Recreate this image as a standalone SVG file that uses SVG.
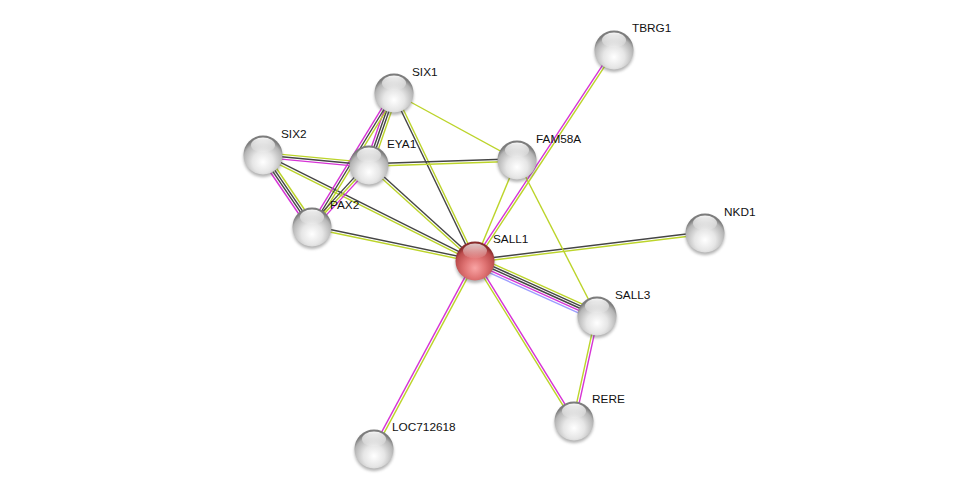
<svg xmlns="http://www.w3.org/2000/svg" width="976" height="494" viewBox="0 0 976 494">
<style>
.e{stroke-width:1.4;fill:none;stroke-linecap:butt}
.y{stroke:#bcd42a}
.k{stroke:#454545}
.m{stroke:#d633d6}
.b{stroke:#9c9cff}
.lbl{font-family:"Liberation Sans",Arial,sans-serif;font-size:11.8px;fill:#111}
</style>
<defs>
<radialGradient id="gg" cx="50%" cy="68%" r="60%">
<stop offset="0%" stop-color="#ffffff"/>
<stop offset="45%" stop-color="#e6e6e6"/>
<stop offset="85%" stop-color="#b4b4b4"/>
<stop offset="100%" stop-color="#7c7c7c"/>
</radialGradient>
<radialGradient id="rg" cx="50%" cy="68%" r="60%">
<stop offset="0%" stop-color="#f9a4a4"/>
<stop offset="45%" stop-color="#e07474"/>
<stop offset="85%" stop-color="#bc4c4c"/>
<stop offset="100%" stop-color="#8a2c2c"/>
</radialGradient>
<linearGradient id="hl" x1="0" y1="0" x2="0" y2="1">
<stop offset="0%" stop-color="#ffffff" stop-opacity="0.95"/>
<stop offset="100%" stop-color="#ffffff" stop-opacity="0.05"/>
</linearGradient>
<filter id="sh" x="-50%" y="-50%" width="200%" height="200%">
<feGaussianBlur stdDeviation="1.6"/>
</filter>
<g id="nodeG">
<circle cx="0" cy="2.5" r="19.5" fill="#555" opacity="0.45" filter="url(#sh)"/>
<circle cx="0" cy="0" r="19.5" fill="url(#gg)"/>
<ellipse cx="0" cy="-10" rx="12" ry="7.5" fill="url(#hl)"/>
</g>
<g id="nodeR">
<circle cx="0" cy="2.5" r="19.5" fill="#555" opacity="0.45" filter="url(#sh)"/>
<circle cx="0" cy="0" r="19.5" fill="url(#rg)"/>
<ellipse cx="0" cy="-10" rx="12" ry="7.5" fill="url(#hl)" opacity="0.8"/>
</g>
</defs>
<rect width="976" height="494" fill="#ffffff"/>
<g id="connectors">
<!-- SALL1-SIX1 -->
<line class="e k" x1="473.9" y1="261.5" x2="392.9" y2="93.5"/>
<line class="e y" x1="476.1" y1="260.5" x2="395.1" y2="92.5"/>
<!-- SALL1-EYA1 -->
<line class="e k" x1="475.8" y1="260.1" x2="369.8" y2="164.1"/>
<line class="e y" x1="474.2" y1="261.9" x2="368.2" y2="165.9"/>
<!-- SALL1-SIX2 -->
<line class="e k" x1="475.5" y1="259.9" x2="263.5" y2="153.9"/>
<line class="e y" x1="474.5" y1="262.1" x2="262.5" y2="156.1"/>
<!-- SALL1-PAX2 -->
<line class="e k" x1="475.2" y1="259.8" x2="312.2" y2="225.8"/>
<line class="e y" x1="474.8" y1="262.2" x2="311.8" y2="228.2"/>
<!-- SALL1-FAM58A -->
<line class="e y" x1="475" y1="261" x2="517" y2="160"/>
<!-- SALL1-TBRG1 -->
<line class="e m" x1="474.0" y1="260.3" x2="613.0" y2="49.3"/>
<line class="e y" x1="476.0" y1="261.7" x2="615.0" y2="50.7"/>
<!-- SALL1-NKD1 -->
<line class="e k" x1="474.9" y1="259.8" x2="704.9" y2="231.8"/>
<line class="e y" x1="475.1" y1="262.2" x2="705.1" y2="234.2"/>
<!-- SALL1-SALL3 -->
<line class="e y" x1="477.0" y1="256.6" x2="599.0" y2="311.6"/>
<line class="e k" x1="476.0" y1="258.8" x2="598.0" y2="313.8"/>
<line class="e k" x1="475" y1="261" x2="597" y2="316"/>
<line class="e m" x1="474.0" y1="263.2" x2="596.0" y2="318.2"/>
<line class="e b" x1="473.0" y1="265.4" x2="595.0" y2="320.4"/>
<!-- SALL1-RERE -->
<line class="e m" x1="476.0" y1="260.4" x2="575.0" y2="420.4"/>
<line class="e y" x1="474.0" y1="261.6" x2="573.0" y2="421.6"/>
<!-- SALL1-LOC712618 -->
<line class="e m" x1="473.9" y1="260.4" x2="372.9" y2="448.4"/>
<line class="e y" x1="476.1" y1="261.6" x2="375.1" y2="449.6"/>
<!-- SALL3-RERE -->
<line class="e y" x1="595.8" y1="315.7" x2="572.8" y2="420.7"/>
<line class="e m" x1="598.2" y1="316.3" x2="575.2" y2="421.3"/>
<!-- FAM58A-SALL3 -->
<line class="e y" x1="517" y1="160" x2="597" y2="316"/>
<!-- FAM58A-SIX1 -->
<line class="e y" x1="517" y1="160" x2="394" y2="93"/>
<!-- FAM58A-EYA1 -->
<line class="e k" x1="369" y1="163.8" x2="517" y2="158.8"/>
<line class="e y" x1="369" y1="166.2" x2="517" y2="161.2"/>
<!-- SIX1-EYA1 -->
<line class="e m" x1="390.6" y1="91.8" x2="365.6" y2="163.8"/>
<line class="e k" x1="392.9" y1="92.6" x2="367.9" y2="164.6"/>
<line class="e k" x1="395.1" y1="93.4" x2="370.1" y2="165.4"/>
<line class="e y" x1="397.4" y1="94.2" x2="372.4" y2="166.2"/>
<!-- SIX1-PAX2 -->
<line class="e m" x1="392.0" y1="91.7" x2="310.0" y2="225.7"/>
<line class="e k" x1="394" y1="93" x2="312" y2="227"/>
<line class="e y" x1="396.0" y1="94.3" x2="314.0" y2="228.3"/>
<!-- SIX2-EYA1 -->
<line class="e y" x1="263.2" y1="152.6" x2="369.2" y2="162.6"/>
<line class="e k" x1="263" y1="155" x2="369" y2="165"/>
<line class="e m" x1="262.8" y1="157.4" x2="368.8" y2="167.4"/>
<!-- SIX2-PAX2 -->
<line class="e m" x1="260.0" y1="157.0" x2="309.0" y2="229.0"/>
<line class="e k" x1="262.0" y1="155.7" x2="311.0" y2="227.7"/>
<line class="e k" x1="264.0" y1="154.3" x2="313.0" y2="226.3"/>
<line class="e y" x1="266.0" y1="153.0" x2="315.0" y2="225.0"/>
<!-- EYA1-PAX2 -->
<line class="e k" x1="367.2" y1="163.4" x2="310.2" y2="225.4"/>
<line class="e y" x1="369" y1="165" x2="312" y2="227"/>
<line class="e m" x1="370.8" y1="166.6" x2="313.8" y2="228.6"/>
</g>
<g id="SIX1"><use href="#nodeG" x="394" y="93"/><text class="lbl" x="412" y="76">SIX1</text></g>
<g id="SIX2"><use href="#nodeG" x="263" y="155"/><text class="lbl" x="281" y="138">SIX2</text></g>
<g id="EYA1"><use href="#nodeG" x="369" y="165"/><text class="lbl" x="387" y="148">EYA1</text></g>
<g id="PAX2"><use href="#nodeG" x="312" y="227"/><text class="lbl" x="330" y="209">PAX2</text></g>
<g id="FAM58A"><use href="#nodeG" x="517" y="160"/><text class="lbl" x="536" y="143">FAM58A</text></g>
<g id="TBRG1"><use href="#nodeG" x="614" y="50"/><text class="lbl" x="632" y="32">TBRG1</text></g>
<g id="NKD1"><use href="#nodeG" x="705" y="233"/><text class="lbl" x="724" y="216">NKD1</text></g>
<g id="SALL3"><use href="#nodeG" x="597" y="316"/><text class="lbl" x="615" y="299">SALL3</text></g>
<g id="RERE"><use href="#nodeG" x="574" y="421"/><text class="lbl" x="592" y="403">RERE</text></g>
<g id="LOC712618"><use href="#nodeG" x="374" y="449"/><text class="lbl" x="392" y="431">LOC712618</text></g>
<g id="SALL1"><use href="#nodeR" x="475" y="261"/><text class="lbl" x="493" y="243">SALL1</text></g>
</svg>
